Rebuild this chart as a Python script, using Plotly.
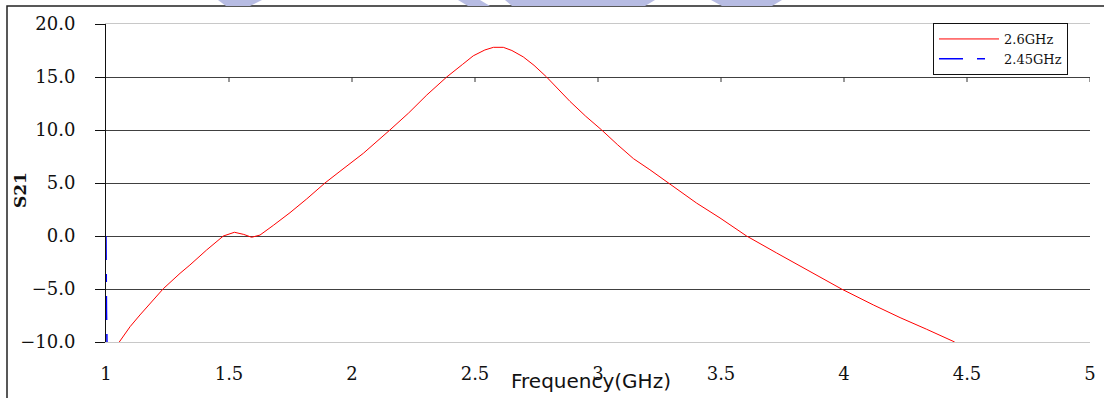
import plotly.graph_objects as go

# S21 sweep of the 2.6 GHz design
freq_26 = [1.054, 1.098, 1.138, 1.192, 1.233, 1.301, 1.341, 1.409, 1.477, 1.522,
           1.560, 1.592, 1.626, 1.680, 1.748, 1.816, 1.890, 1.951, 2.046, 2.154,
           2.230, 2.304, 2.385, 2.450, 2.493, 2.540, 2.575, 2.615, 2.650, 2.696,
           2.740, 2.791, 2.886, 2.950, 3.015, 3.080, 3.144, 3.211, 3.286, 3.401,
           3.496, 3.604, 3.726, 3.841, 3.902, 3.990, 4.119, 4.228, 4.336, 4.450]
s21_26 = [-10.0, -8.55, -7.45, -6.04, -4.97, -3.52, -2.74, -1.32, 0.0, 0.35,
          0.15, -0.12, 0.09, 1.0, 2.2, 3.5, 5.0, 6.1, 7.8, 10.0,
          11.6, 13.3, 15.0, 16.2, 17.0, 17.55, 17.8, 17.8, 17.5, 16.9,
          16.1, 15.0, 12.7, 11.3, 10.0, 8.6, 7.3, 6.25, 5.0, 3.1,
          1.7, 0.0, -1.6, -3.1, -3.9, -5.0, -6.5, -7.7, -8.8, -10.0]

# S21 of the 2.45 GHz design
freq_245 = [1.0, 1.0, 1.002, 1.004]
s21_245 = [0.0, -3.0, -7.0, -10.0]

series_names = ["2.6GHz", "2.45GHz"]
x_ticks = [1, 1.5, 2, 2.5, 3, 3.5, 4, 4.5, 5]
y_ticks = [-10, -5, 0, 5, 10, 15, 20]
x_cross = 15  # level where the category axis crosses, carrying its tick marks

W, H = 1104, 398
L, R, T, B = 106, 14, 24, 56
pw, ph = W - L - R, H - T - B


def px_x(p):
    return (p - L) / pw


def px_y(p):
    return (H - B - p) / ph


serif = "DejaVu Serif"

fig = go.Figure()
fig.add_trace(go.Scatter(x=freq_26, y=s21_26, mode="lines", name=series_names[0],
                         line=dict(color="#ff0000", width=1)))
fig.add_trace(go.Scatter(x=freq_245, y=s21_245, mode="lines", name=series_names[1],
                         line=dict(color="#0000ff", width=1.5, dash="24px,14px,8px,14px")))

axis_font = dict(family=serif, size=18, color="#111111")

fig.update_layout(
    width=W, height=H,
    margin=dict(l=L, r=R, t=T, b=B, autoexpand=False),
    paper_bgcolor="white", plot_bgcolor="white",
    showlegend=True,
    legend=dict(x=px_x(933), y=px_y(23), xanchor="left", yanchor="top",
                bgcolor="white", bordercolor="#111111", borderwidth=1,
                font=dict(family=serif, size=13, color="#111111"),
                itemwidth=60, tracegroupgap=0),
    xaxis=dict(range=[1, 5], tickvals=x_ticks, showgrid=False, zeroline=False,
               ticks="", showline=True, linecolor="#c8c8c8", linewidth=1, mirror=True,
               tickfont=axis_font, ticklabelstandoff=15, automargin=False),
    yaxis=dict(range=[-10, 20], tickvals=y_ticks, tickformat=".1f",
               showgrid=True, gridcolor="#404040", gridwidth=1, zeroline=False,
               ticks="outside", ticklen=10, tickcolor="#111111",
               showline=True, linecolor="#111111", linewidth=1,
               tickfont=axis_font, ticklabelstandoff=16, automargin=False),
)

# tick marks of the crossing axis
for t in x_ticks[1:]:
    fig.add_shape(type="line", xref="x", yref="y", ysizemode="pixel", yanchor=x_cross,
                  x0=t, x1=t, y0=0, y1=-5, line=dict(color="#333333", width=1))

# axis titles
fig.add_annotation(text="S21", textangle=-90, xref="paper", yref="paper",
                   x=px_x(20), y=px_y(190), xanchor="center", yanchor="middle",
                   showarrow=False,
                   font=dict(family=serif, size=17, color="#111111", weight="bold"))
fig.add_annotation(text="Frequency(GHz)", xref="paper", yref="paper",
                   x=px_x(591), y=px_y(381), xanchor="center", yanchor="middle",
                   showarrow=False,
                   font=dict(family="DejaVu Sans", size=20, color="#111111"))

# outer frame of the chart object
fig.add_shape(type="rect", xref="paper", yref="paper",
              x0=px_x(7), y0=px_y(420), x1=px_x(1120), y1=px_y(6),
              line=dict(color="#222222", width=1.5), layer="below")

# faint logo strip above the frame
logo = "#b7bce3"
for path in [
    f"M{px_x(218)},{px_y(0)} L{px_x(262)},{px_y(0)} L{px_x(250)},{px_y(6)} L{px_x(226)},{px_y(6)} Z",
    f"M{px_x(458)},{px_y(0)} L{px_x(480)},{px_y(0)} L{px_x(490)},{px_y(6)} L{px_x(468)},{px_y(6)} Z",
    f"M{px_x(505)},{px_y(0)} L{px_x(655)},{px_y(0)} L{px_x(645)},{px_y(6)} L{px_x(512)},{px_y(6)} Z",
    f"M{px_x(711)},{px_y(0)} L{px_x(782)},{px_y(0)} L{px_x(772)},{px_y(6)} L{px_x(722)},{px_y(6)} Z",
]:
    fig.add_shape(type="path", path=path, xref="paper", yref="paper",
                  fillcolor=logo, line=dict(width=0), layer="below")

fig.write_html("out.html")
